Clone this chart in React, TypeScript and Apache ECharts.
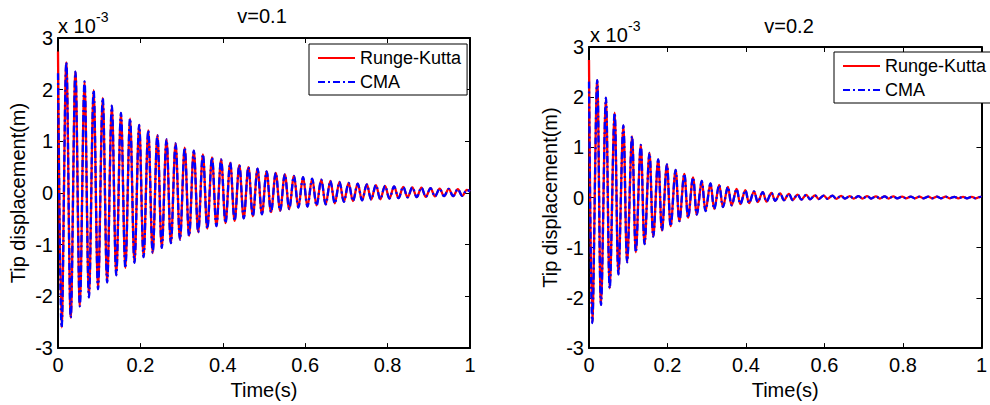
import React, { useEffect, useRef } from "react";
import * as echarts from "echarts";

// ---------- data (values in units of 1e-3 m) ----------
const X_MIN = 0;
const X_MAX = 1;
const X_STEP = 0.2;
const Y_MIN = -3;
const Y_MAX = 3;
const Y_STEP = 1;
const EXPONENT = "-3";
const SERIES_NAMES = ["Runge-Kutta", "CMA"];
const TITLES = ["v=0.1", "v=0.2"];

// v = 0.1
const LEFT_RK_START = 2.74;
const LEFT_CMA_START = 2.32;
const LEFT_END = 0.03;
const LEFT_PERIOD = 0.0221;
const LEFT_FIRST_TROUGH_T = 0.0088;
const LEFT_FIRST_PEAK_T = 0.0202;
const LEFT_PEAKS = [
  2.53, 2.35, 2.16, 1.99, 1.84, 1.69, 1.55, 1.44, 1.32, 1.21, 1.12, 1.04, 0.96, 0.88, 0.82,
  0.75, 0.69, 0.65, 0.59, 0.54, 0.5, 0.47, 0.42, 0.39, 0.36, 0.33, 0.31, 0.28, 0.26, 0.235,
  0.215, 0.195, 0.18, 0.165, 0.155, 0.14, 0.13, 0.12, 0.11, 0.105, 0.095, 0.085, 0.08, 0.075, 0.06,
];
const LEFT_TROUGHS = [
  -2.6, -2.41, -2.19, -2.02, -1.86, -1.73, -1.59, -1.45, -1.35, -1.24, -1.16, -1.06, -0.97, -0.9,
  -0.83, -0.76, -0.69, -0.64, -0.58, -0.54, -0.49, -0.45, -0.41, -0.37, -0.34, -0.31, -0.28,
  -0.26, -0.24, -0.22, -0.2, -0.17, -0.155, -0.14, -0.125, -0.12, -0.105, -0.1, -0.085, -0.08,
  -0.075, -0.065, -0.06, -0.06, -0.055,
];

// v = 0.2
const RIGHT_RK_START = 2.74;
const RIGHT_CMA_START = 2.31;
const RIGHT_END = 0.01;
const RIGHT_PERIOD = 0.0222;
const RIGHT_FIRST_TROUGH_T = 0.0084;
const RIGHT_FIRST_PEAK_T = 0.0209;
const RIGHT_PEAKS = [
  2.34, 1.99, 1.69, 1.44, 1.22, 1.05, 0.89, 0.76, 0.66, 0.55, 0.47, 0.4, 0.33, 0.28, 0.25, 0.21,
  0.17, 0.145, 0.125, 0.11, 0.095, 0.085, 0.075, 0.06, 0.055, 0.045, 0.04, 0.04, 0.035, 0.03,
  0.03, 0.03, 0.025, 0.025, 0.025, 0.02, 0.02, 0.02, 0.02, 0.02, 0.02, 0.015, 0.015, 0.015, 0.015,
];
const RIGHT_TROUGHS = [
  -2.5, -2.14, -1.81, -1.53, -1.29, -1.09, -0.93, -0.78, -0.66, -0.57, -0.47, -0.4, -0.34, -0.27,
  -0.23, -0.19, -0.155, -0.13, -0.11, -0.09, -0.08, -0.065, -0.055, -0.05, -0.04, -0.035, -0.03,
  -0.025, -0.025, -0.02, -0.02, -0.02, -0.02, -0.02, -0.02, -0.015, -0.015, -0.015, -0.015,
  -0.015, -0.015, -0.015, -0.015, -0.015, -0.015,
];

// ---------- helpers ----------
function buildPoints(
  start: number,
  troughs: number[],
  peaks: number[],
  firstTrough: number,
  firstPeak: number,
  period: number,
  end: number
): number[][] {
  const pts: number[][] = [[X_MIN, start]];
  for (let k = 0; k < Math.max(troughs.length, peaks.length); k++) {
    if (k < troughs.length) pts.push([firstTrough + k * period, troughs[k]]);
    if (k < peaks.length) pts.push([firstPeak + k * period, peaks[k]]);
  }
  pts.push([X_MAX, end]);
  return pts;
}

const FONT = "'Liberation Sans', Arial, Helvetica, sans-serif";
const AX_FS = 20;

export default function App() {
  const ref = useRef<HTMLDivElement>(null);

  useEffect(() => {
    document.body.style.margin = "0";
    if (!ref.current) return;
    const chart = echarts.init(ref.current, null, { renderer: "svg" });

    const grids = [
      { left: 58, top: 38, width: 412, height: 313 },
      { left: 589, top: 47, width: 399, height: 305 },
    ];

    const axisLine = { show: true, onZero: false, lineStyle: { color: "#000", width: 2 } };
    const axisTick = { show: true, inside: true, length: 5, lineStyle: { color: "#000", width: 1 } };

    const xAxes: any[] = [];
    const yAxes: any[] = [];
    grids.forEach((_, g) => {
      xAxes.push({
        type: "value",
        gridIndex: g,
        position: "bottom",
        min: X_MIN,
        max: X_MAX,
        interval: X_STEP,
        axisLine,
        axisTick,
        splitLine: { show: false },
        axisLabel: { color: "#000", fontSize: AX_FS, fontFamily: FONT, margin: 7 },
        name: "Time(s)",
        nameLocation: "middle",
        nameGap: 31,
        nameTextStyle: { color: "#000", fontSize: AX_FS, fontFamily: FONT },
      });
      xAxes.push({
        type: "value",
        gridIndex: g,
        position: "top",
        min: X_MIN,
        max: X_MAX,
        interval: X_STEP,
        axisLine,
        axisTick,
        splitLine: { show: false },
        axisLabel: { show: false },
      });
      yAxes.push({
        type: "value",
        gridIndex: g,
        position: "left",
        min: Y_MIN,
        max: Y_MAX,
        interval: Y_STEP,
        axisLine,
        axisTick,
        splitLine: { show: false },
        axisLabel: { color: "#000", fontSize: AX_FS, fontFamily: FONT, margin: 5 },
        name: "Tip displacement(m)",
        nameLocation: "middle",
        nameGap: g === 0 ? 30 : 29,
        nameTextStyle: { color: "#000", fontSize: AX_FS, fontFamily: FONT },
      });
      yAxes.push({
        type: "value",
        gridIndex: g,
        position: "right",
        min: Y_MIN,
        max: Y_MAX,
        interval: Y_STEP,
        axisLine,
        axisTick,
        splitLine: { show: false },
        axisLabel: { show: false },
      });
    });

    const leftRK = buildPoints(LEFT_RK_START, LEFT_TROUGHS, LEFT_PEAKS, LEFT_FIRST_TROUGH_T, LEFT_FIRST_PEAK_T, LEFT_PERIOD, LEFT_END);
    const leftCMA = buildPoints(LEFT_CMA_START, LEFT_TROUGHS, LEFT_PEAKS, LEFT_FIRST_TROUGH_T, LEFT_FIRST_PEAK_T, LEFT_PERIOD, LEFT_END);
    const rightRK = buildPoints(RIGHT_RK_START, RIGHT_TROUGHS, RIGHT_PEAKS, RIGHT_FIRST_TROUGH_T, RIGHT_FIRST_PEAK_T, RIGHT_PERIOD, RIGHT_END);
    const rightCMA = buildPoints(RIGHT_CMA_START, RIGHT_TROUGHS, RIGHT_PEAKS, RIGHT_FIRST_TROUGH_T, RIGHT_FIRST_PEAK_T, RIGHT_PERIOD, RIGHT_END);

    const rkStyle = { color: "#ff0000", width: 2.3, type: "solid" };
    const cmaStyle = { color: "#0000ff", width: 2.3, type: [7, 3, 2, 3] };

    const mk = (name: string, data: number[][], g: number, style: any, z: number) => ({
      type: "line",
      name,
      xAxisIndex: g * 2,
      yAxisIndex: g * 2,
      data,
      symbol: "none",
      showSymbol: false,
      smooth: 0.35,
      lineStyle: style,
      itemStyle: { color: style.color },
      z,
      silent: true,
    });

    const legendBase = {
      data: SERIES_NAMES,
      orient: "vertical",
      itemWidth: 37,
      itemHeight: 18,
      itemGap: 6,
      padding: [5, 6, 4, 8],
      borderColor: "#000",
      borderWidth: 1,
      borderRadius: 0,
      backgroundColor: "#fff",
      selectedMode: false,
      itemStyle: { opacity: 0 },
      textStyle: { color: "#000", fontSize: 18, fontFamily: FONT, lineHeight: 18 },
    };

    const txt = (text: string, x: number, y: number, fs: number, align = "left", va = "bottom") => ({
      type: "text",
      x,
      y,
      silent: true,
      style: { text, fill: "#000", font: `${fs}px ${FONT}`, textAlign: align, textVerticalAlign: va },
    });

    chart.setOption({
      animation: false,
      backgroundColor: "#fff",
      grid: grids.map((g) => ({ ...g, containLabel: false })),
      xAxis: xAxes,
      yAxis: yAxes,
      legend: [
        { ...legendBase, left: 309, top: 44 },
        { ...legendBase, left: 834, top: 52 },
      ],
      series: [
        mk(SERIES_NAMES[0], leftRK, 0, rkStyle, 2),
        mk(SERIES_NAMES[1], leftCMA, 0, cmaStyle, 3),
        mk(SERIES_NAMES[0], rightRK, 1, rkStyle, 2),
        mk(SERIES_NAMES[1], rightCMA, 1, cmaStyle, 3),
      ],
      graphic: [
        txt(TITLES[0], 262, 16, AX_FS, "center", "middle"),
        txt(TITLES[1], 789, 26, AX_FS, "center", "middle"),
        txt("x 10", 58, 36, AX_FS),
        txt(EXPONENT, 96, 24, 14),
        txt("x 10", 590, 45, AX_FS),
        txt(EXPONENT, 628, 33, 14),
      ],
    });

    return () => chart.dispose();
  }, []);

  return <div ref={ref} style={{ width: 990, height: 405 }} />;
}
